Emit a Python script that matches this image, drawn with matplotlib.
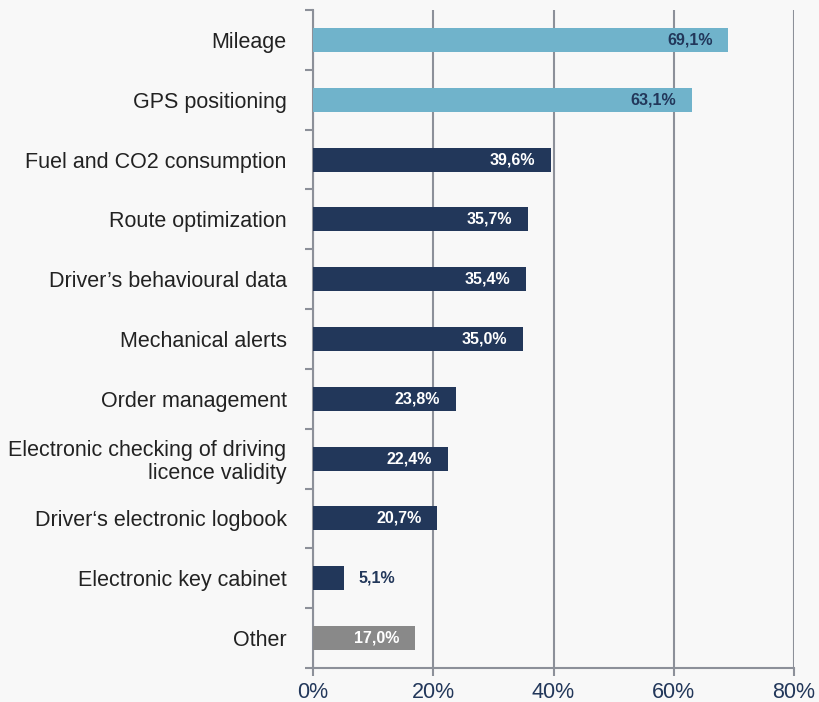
import matplotlib.pyplot as plt
import numpy as np

# data
categories = ['Mileage', 'GPS positioning', 'Fuel and CO2 consumption',
              'Route optimization', 'Driver\u2019s behavioural data',
              'Mechanical alerts', 'Order management',
              'Electronic checking of driving\nlicence validity',
              'Driver\u2018s electronic logbook', 'Electronic key cabinet', 'Other']
values = [69.1, 63.1, 39.6, 35.7, 35.4, 35.0, 23.8, 22.4, 20.7, 5.1, 17.0]
groups = ['light', 'light', 'dark', 'dark', 'dark', 'dark', 'dark', 'dark',
          'dark', 'dark', 'other']
xticks = [0, 20, 40, 60, 80]

C_BG = '#f8f8f8'
C_GRID = '#8c9099'
bar_col = {'light': '#70b3cb', 'dark': '#22375a', 'other': '#898989'}
txt_col = {'light': '#22375a', 'dark': 'white', 'other': 'white'}

plt.rcParams['font.family'] = ['Liberation Sans', 'DejaVu Sans']

fig = plt.figure(figsize=(8.19, 7.02), dpi=100)
fig.patch.set_facecolor(C_BG)
ax = fig.add_axes([313 / 819, 1 - 668 / 702, (794 - 313) / 819, 658 / 702])
ax.set_facecolor(C_BG)

y = np.arange(len(categories))
ax.barh(y, values, height=0.4, color=[bar_col[g] for g in groups], zorder=3)

ax.set_xlim(0, 80)
ax.set_ylim(len(categories) - 0.5, -0.5)

for yi, v, g in zip(y, values, groups):
    lab = f'{v:.1f}%'.replace('.', ',')
    if v < 10:
        ax.annotate(lab, (v, yi), xytext=(15, 0), textcoords='offset pixels',
                    ha='left', va='center', fontsize=11.5, fontweight='bold',
                    color='#22375a', zorder=4)
    else:
        ax.annotate(lab, (v, yi), xytext=(-16, 0), textcoords='offset pixels',
                    ha='right', va='center', fontsize=11.5, fontweight='bold',
                    color=txt_col[g], zorder=4)

ax.set_xticks(xticks)
ax.set_xticklabels([f'{t}%' for t in xticks], fontsize=15.5, color='#22375a')
ax.tick_params(axis='x', length=6, width=1.5, color=C_GRID, direction='out', pad=4)
ax.grid(axis='x', color=C_GRID, linewidth=1.5, zorder=1)

ax.set_yticks(y)
ax.set_yticklabels(categories, fontsize=15.5, color='#222222', linespacing=1.1)
ax.set_yticks(np.arange(len(categories) + 1) - 0.5, minor=True)
ax.tick_params(axis='y', which='major', length=0, pad=19)
ax.tick_params(axis='y', which='minor', length=6, width=1.5, color=C_GRID)
for lbl in ax.get_yticklabels():
    lbl.set_multialignment('right')

for s in ['top', 'right']:
    ax.spines[s].set_visible(False)
for s in ['left', 'bottom']:
    ax.spines[s].set_color(C_GRID)
    ax.spines[s].set_linewidth(1.5)

fig.savefig('out.png', dpi=100, facecolor=fig.get_facecolor())
